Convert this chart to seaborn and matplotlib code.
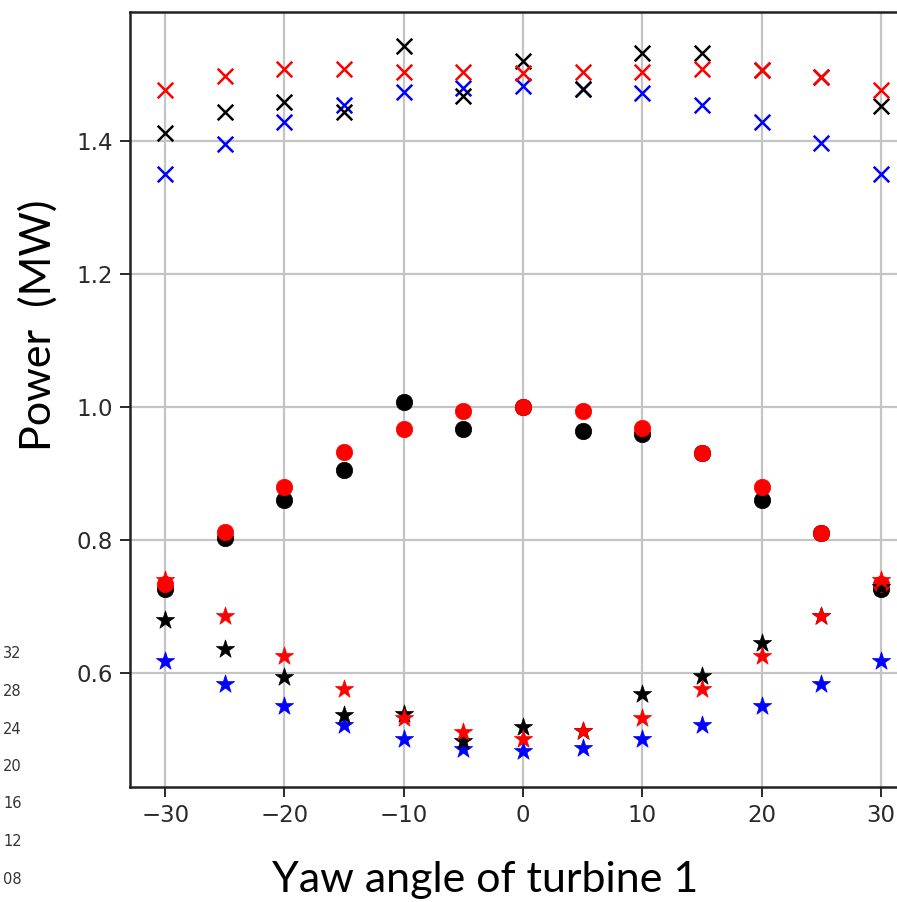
import numpy as np
import pandas as pd
import matplotlib
matplotlib.use("Agg")
import matplotlib.pyplot as plt
import seaborn as sns

# Yaw angle of the upstream turbine (degrees)
yaw = [-30, -25, -20, -15, -10, -5, 0, 5, 10, 15, 20, 25, 30]

# Total power (x markers)
total_black = [1.412, 1.443, 1.458, 1.444, 1.543, 1.467, 1.520, 1.478, 1.532, 1.532, 1.507, 1.497, 1.453]
total_blue  = [1.350, 1.396, 1.429, 1.454, 1.473, 1.479, 1.483, 1.478, 1.472, 1.454, 1.429, 1.397, 1.350]
total_red   = [1.476, 1.498, 1.508, 1.508, 1.504, 1.504, 1.503, 1.504, 1.504, 1.508, 1.507, 1.497, 1.477]

# Turbine 1 power (circles)
t1_black = [0.727, 0.803, 0.860, 0.906, 1.007, 0.967, 1.000, 0.964, 0.959, 0.931, 0.860, 0.810, 0.727]
t1_red   = [0.734, 0.812, 0.879, 0.932, 0.967, 0.994, 1.000, 0.994, 0.968, 0.931, 0.879, 0.811, 0.734]

# Turbine 2 power (stars)
t2_black = [0.679, 0.636, 0.594, 0.537, 0.538, 0.498, 0.519, 0.513, 0.569, 0.595, 0.645, 0.686, 0.730]
t2_blue  = [0.618, 0.583, 0.550, 0.522, 0.501, 0.486, 0.482, 0.487, 0.501, 0.522, 0.550, 0.583, 0.618]
t2_red   = [0.740, 0.686, 0.626, 0.576, 0.533, 0.511, 0.501, 0.513, 0.533, 0.576, 0.626, 0.686, 0.740]

x_ticks = [-30, -20, -10, 0, 10, 20, 30]
y_ticks = [0.6, 0.8, 1.0, 1.2, 1.4]
side_labels = ["32", "28", "24", "20", "16", "12", "08"]

sns.set_theme(style="ticks")
plt.rcParams["font.family"] = ["DejaVu Sans"]

W, H = 897, 902
fig = plt.figure(figsize=(W / 100, H / 100), dpi=100)
ax = fig.add_axes([130 / W, (H - 787) / H, (916 - 130) / W, (787 - 12) / H])

series = [
    (total_blue, "blue", "x"), (total_black, "black", "x"), (total_red, "red", "x"),
    (t1_black, "black", "o"), (t1_red, "red", "o"),
    (t2_blue, "blue", "*"), (t2_black, "black", "*"), (t2_red, "red", "*"),
]
sizes = {"x": 125, "o": 140, "*": 190}

for vals, col, mk in series:
    df = pd.DataFrame({"yaw": yaw, "power": vals})
    if mk == "x":
        sns.scatterplot(data=df, x="yaw", y="power", ax=ax, marker=mk, color=col,
                        s=sizes[mk], linewidth=1.8, zorder=3)
    else:
        sns.scatterplot(data=df, x="yaw", y="power", ax=ax, marker=mk, color=col,
                        s=sizes[mk], edgecolor=col, linewidth=0.5, zorder=3)

ax.set_xlim(-32.95, 32.95)
ax.set_ylim(0.4286, 1.594)
ax.set_xticks(x_ticks)
ax.set_yticks(y_ticks)
ax.set_xticklabels([f"{v}".replace("-", "\u2212") for v in x_ticks])
ax.set_yticklabels([f"{v:.1f}" for v in y_ticks])
ax.set_xlabel("")
ax.set_ylabel("")
ax.grid(True, color="#c4c4c4", linewidth=1.6, zorder=0)
ax.set_axisbelow(True)
ax.tick_params(axis="both", labelsize=16.5, colors="#2a2a2a", length=7, width=1.4,
               direction="out", pad=5)
for sp in ax.spines.values():
    sp.set_color("#222222")
    sp.set_linewidth(1.8)

# Axis titles
fig.text(38 / W, 1 - 325 / H, "Power  (MW)", rotation=90, ha="center", va="center",
         fontsize=31, family=["Lato", "DejaVu Sans"], color="black")
fig.text(485 / W, 1 - 880 / H, "Yaw angle of turbine 1", ha="center", va="center",
         fontsize=31, family=["Lato", "DejaVu Sans"], color="black")

# Tick labels of the neighbouring panel on the left
for i, lab in enumerate(side_labels):
    yy = 654 + i * 37.5
    fig.text(3 / W, 1 - yy / H, lab, ha="left", va="center", fontsize=10.5,
             color="#333333")

fig.savefig("out.png", dpi=100)
